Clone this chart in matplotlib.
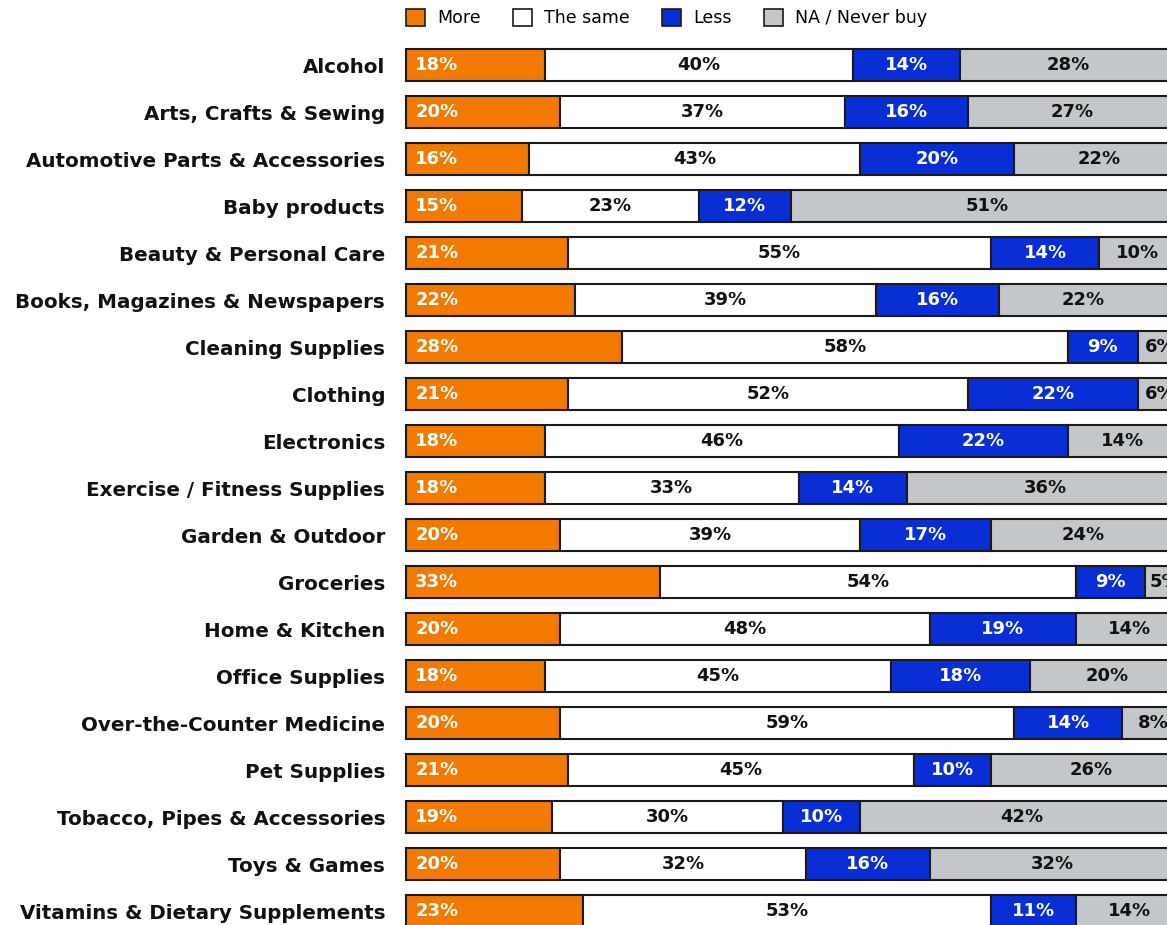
import numpy as np
import matplotlib.pyplot as plt
from matplotlib.patches import Patch

plt.rcParams['font.family'] = ['DejaVu Sans']

# shopping categories, top to bottom
categories = [
    "Alcohol", "Arts, Crafts & Sewing", "Automotive Parts & Accessories",
    "Baby products", "Beauty & Personal Care", "Books, Magazines & Newspapers",
    "Cleaning Supplies", "Clothing", "Electronics", "Exercise / Fitness Supplies",
    "Garden & Outdoor", "Groceries", "Home & Kitchen", "Office Supplies",
    "Over-the-Counter Medicine", "Pet Supplies", "Tobacco, Pipes & Accessories",
    "Toys & Games", "Vitamins & Dietary Supplements",
]
more = [18, 20, 16, 15, 21, 22, 28, 21, 18, 18, 20, 33, 20, 18, 20, 21, 19, 20, 23]
same = [40, 37, 43, 23, 55, 39, 58, 52, 46, 33, 39, 54, 48, 45, 59, 45, 30, 32, 53]
less = [14, 16, 20, 12, 14, 16, 9, 22, 22, 14, 17, 9, 19, 18, 14, 10, 10, 16, 11]
never = [28, 27, 22, 51, 10, 22, 6, 6, 14, 36, 24, 5, 14, 20, 8, 26, 42, 32, 14]

series = [
    ("More", more, "#F27A00", "white"),
    ("The same", same, "white", "#111111"),
    ("Less", less, "#0A2ED6", "white"),
    ("NA / Never buy", never, "#C3C7C9", "#111111"),
]

W, H = 1167, 925
fig = plt.figure(figsize=(W / 100, H / 100), dpi=100)
# axes runs past the right edge so the last segment is clipped
ax = fig.add_axes([406 / W, (H - 934.5) / H, 770 / W, 893 / H])

y = np.arange(len(categories))
left = np.zeros(len(categories))
for name, vals, color, txt in series:
    vals = np.array(vals, dtype=float)
    ax.barh(y, vals, left=left, height=0.68, color=color,
            edgecolor="#1a1a1a", linewidth=1.5, label=name, clip_on=False)
    for yi, l, v in zip(y, left, vals):
        if name == "More":
            ax.text(l + 1.2, yi, f"{int(v)}%", ha="left", va="center",
                    color=txt, fontsize=13, fontweight="bold")
        else:
            ax.text(l + v / 2, yi, f"{int(v)}%", ha="center", va="center",
                    color=txt, fontsize=13, fontweight="bold")
    left += vals

ax.set_xlim(0, 100)
ax.set_ylim(len(categories) - 0.5, -0.5)
ax.set_yticks(y)
ax.set_yticklabels(categories, fontsize=14.3, fontweight="bold", color="#111111")
ax.tick_params(axis="y", length=0, pad=15)
ax.set_xticks([])
for s in ax.spines.values():
    s.set_visible(False)

handles = [Patch(facecolor=c, edgecolor="#1a1a1a", linewidth=1.2, label=n)
           for n, _, c, _ in series]
fig.legend(handles=handles, loc="center left", bbox_to_anchor=(390 / W, 1 - 18 / H),
           ncol=4, frameon=False, fontsize=12.5, handlelength=1.1, handleheight=1.1,
           handletextpad=0.7, columnspacing=1.85)

fig.savefig("out.png", dpi=100)
